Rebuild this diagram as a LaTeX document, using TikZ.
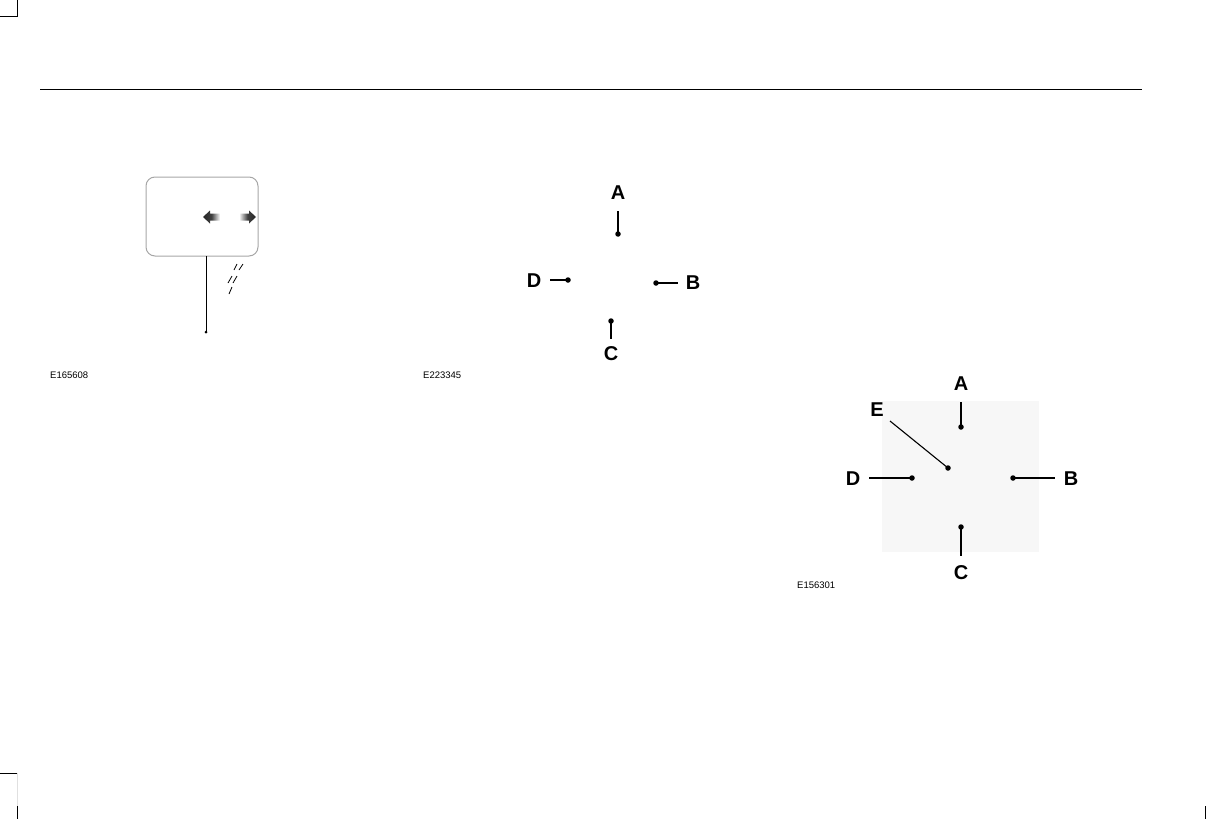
\documentclass[tikz,border=0pt]{standalone}
\usepackage{fontspec}
\setmainfont{Liberation Sans}
\begin{document}
\begin{tikzpicture}[x=1pt,y=-1pt,
  lbl/.style={font=\fontsize{20}{20}\selectfont\bfseries, inner sep=0pt},
  code/.style={font=\fontsize{9.5}{10}\selectfont, inner sep=0pt, anchor=west},
  lead/.style={line width=1.1pt},
  dotc/.style={fill=black, circle, inner sep=0pt, minimum size=5.5pt},
  crop/.style={line width=0.9pt}]
\useasboundingbox (0,0) rectangle (1223,819);
% crop marks
\draw[crop] (17,0) -- (17,16) -- (0,16);
\draw[crop] (0,773) -- (17,773);
\draw[line width=0.9pt, black!12] (17,773) -- (17,806);
\draw[crop] (17,806) -- (17,819);
\draw[crop] (1205,806) -- (1205,819);
% header rule
\draw[line width=1pt] (40,89) -- (1142,89);

% ---- left figure ----
\node[draw=black!35, line width=1pt, rounded corners=9pt, minimum width=112pt, minimum height=79pt, inner sep=0pt] (box) at (202,216.5) {};
\shade[left color=black!85, right color=white, middle color=black!75] (203,217) -- (210,210.5) -- (210,213.5) -- (220,213.5) -- (220,220.5) -- (210,220.5) -- (210,223.5) -- cycle;
\shade[left color=white, right color=black!85, middle color=black!75] (256,217) -- (249,210.5) -- (249,213.5) -- (239,213.5) -- (239,220.5) -- (249,220.5) -- (249,223.5) -- cycle;
\coordinate (boxb) at (206,256);
\node[fill=black, circle, inner sep=0pt, minimum size=3pt] (ld) at (206,332) {};
\draw[line width=0.9pt] (boxb) -- (ld.center);
\draw[line width=0.8pt] (234,270) -- (237,264) (239,270) -- (243,264)
  (228,283) -- (232,276) (233,283) -- (237,276)
  (229,294) -- (232,287);
\node[code] (c1) at (50,375) {E165608};

% ---- middle figure ----
\node[lbl] (mA) at (618,193) {A};
\node[dotc] (mAd) at (618,234) {};
\draw[lead] (618,211) -- (mAd.center);
\node[lbl] (mD) at (534,281) {D};
\node[dotc] (mDd) at (568,280) {};
\draw[lead] (550,280) -- (mDd.center);
\node[lbl] (mB) at (693,283) {B};
\node[dotc] (mBd) at (656,283) {};
\draw[lead] (mBd.center) -- (678,283);
\node[lbl] (mC) at (611,354) {C};
\node[dotc] (mCd) at (611,321) {};
\draw[lead] (mCd.center) -- (611,339);
\node[code] (c2) at (423,375) {E223345};

% ---- right figure ----
\fill[black!3] (882,401) rectangle (1039,552);
\node[lbl] (rA) at (961,384) {A};
\node[dotc] (rAd) at (961,427) {};
\draw[lead] (961,402) -- (rAd.center);
\node[lbl] (rE) at (877,410) {E};
\node[dotc] (rEd) at (948,468) {};
\draw[lead] (890,421) -- (rEd.center);
\node[lbl] (rD) at (853,479) {D};
\node[dotc] (rDd) at (912,478) {};
\draw[lead] (869,478) -- (rDd.center);
\node[lbl] (rB) at (1071,479) {B};
\node[dotc] (rBd) at (1013,478) {};
\draw[lead] (rBd.center) -- (1055,478);
\node[lbl] (rC) at (961,573) {C};
\node[dotc] (rCd) at (961,527) {};
\draw[lead] (rCd.center) -- (961,556);
\node[code] (c3) at (797,585) {E156301};
\end{tikzpicture}
\end{document}
